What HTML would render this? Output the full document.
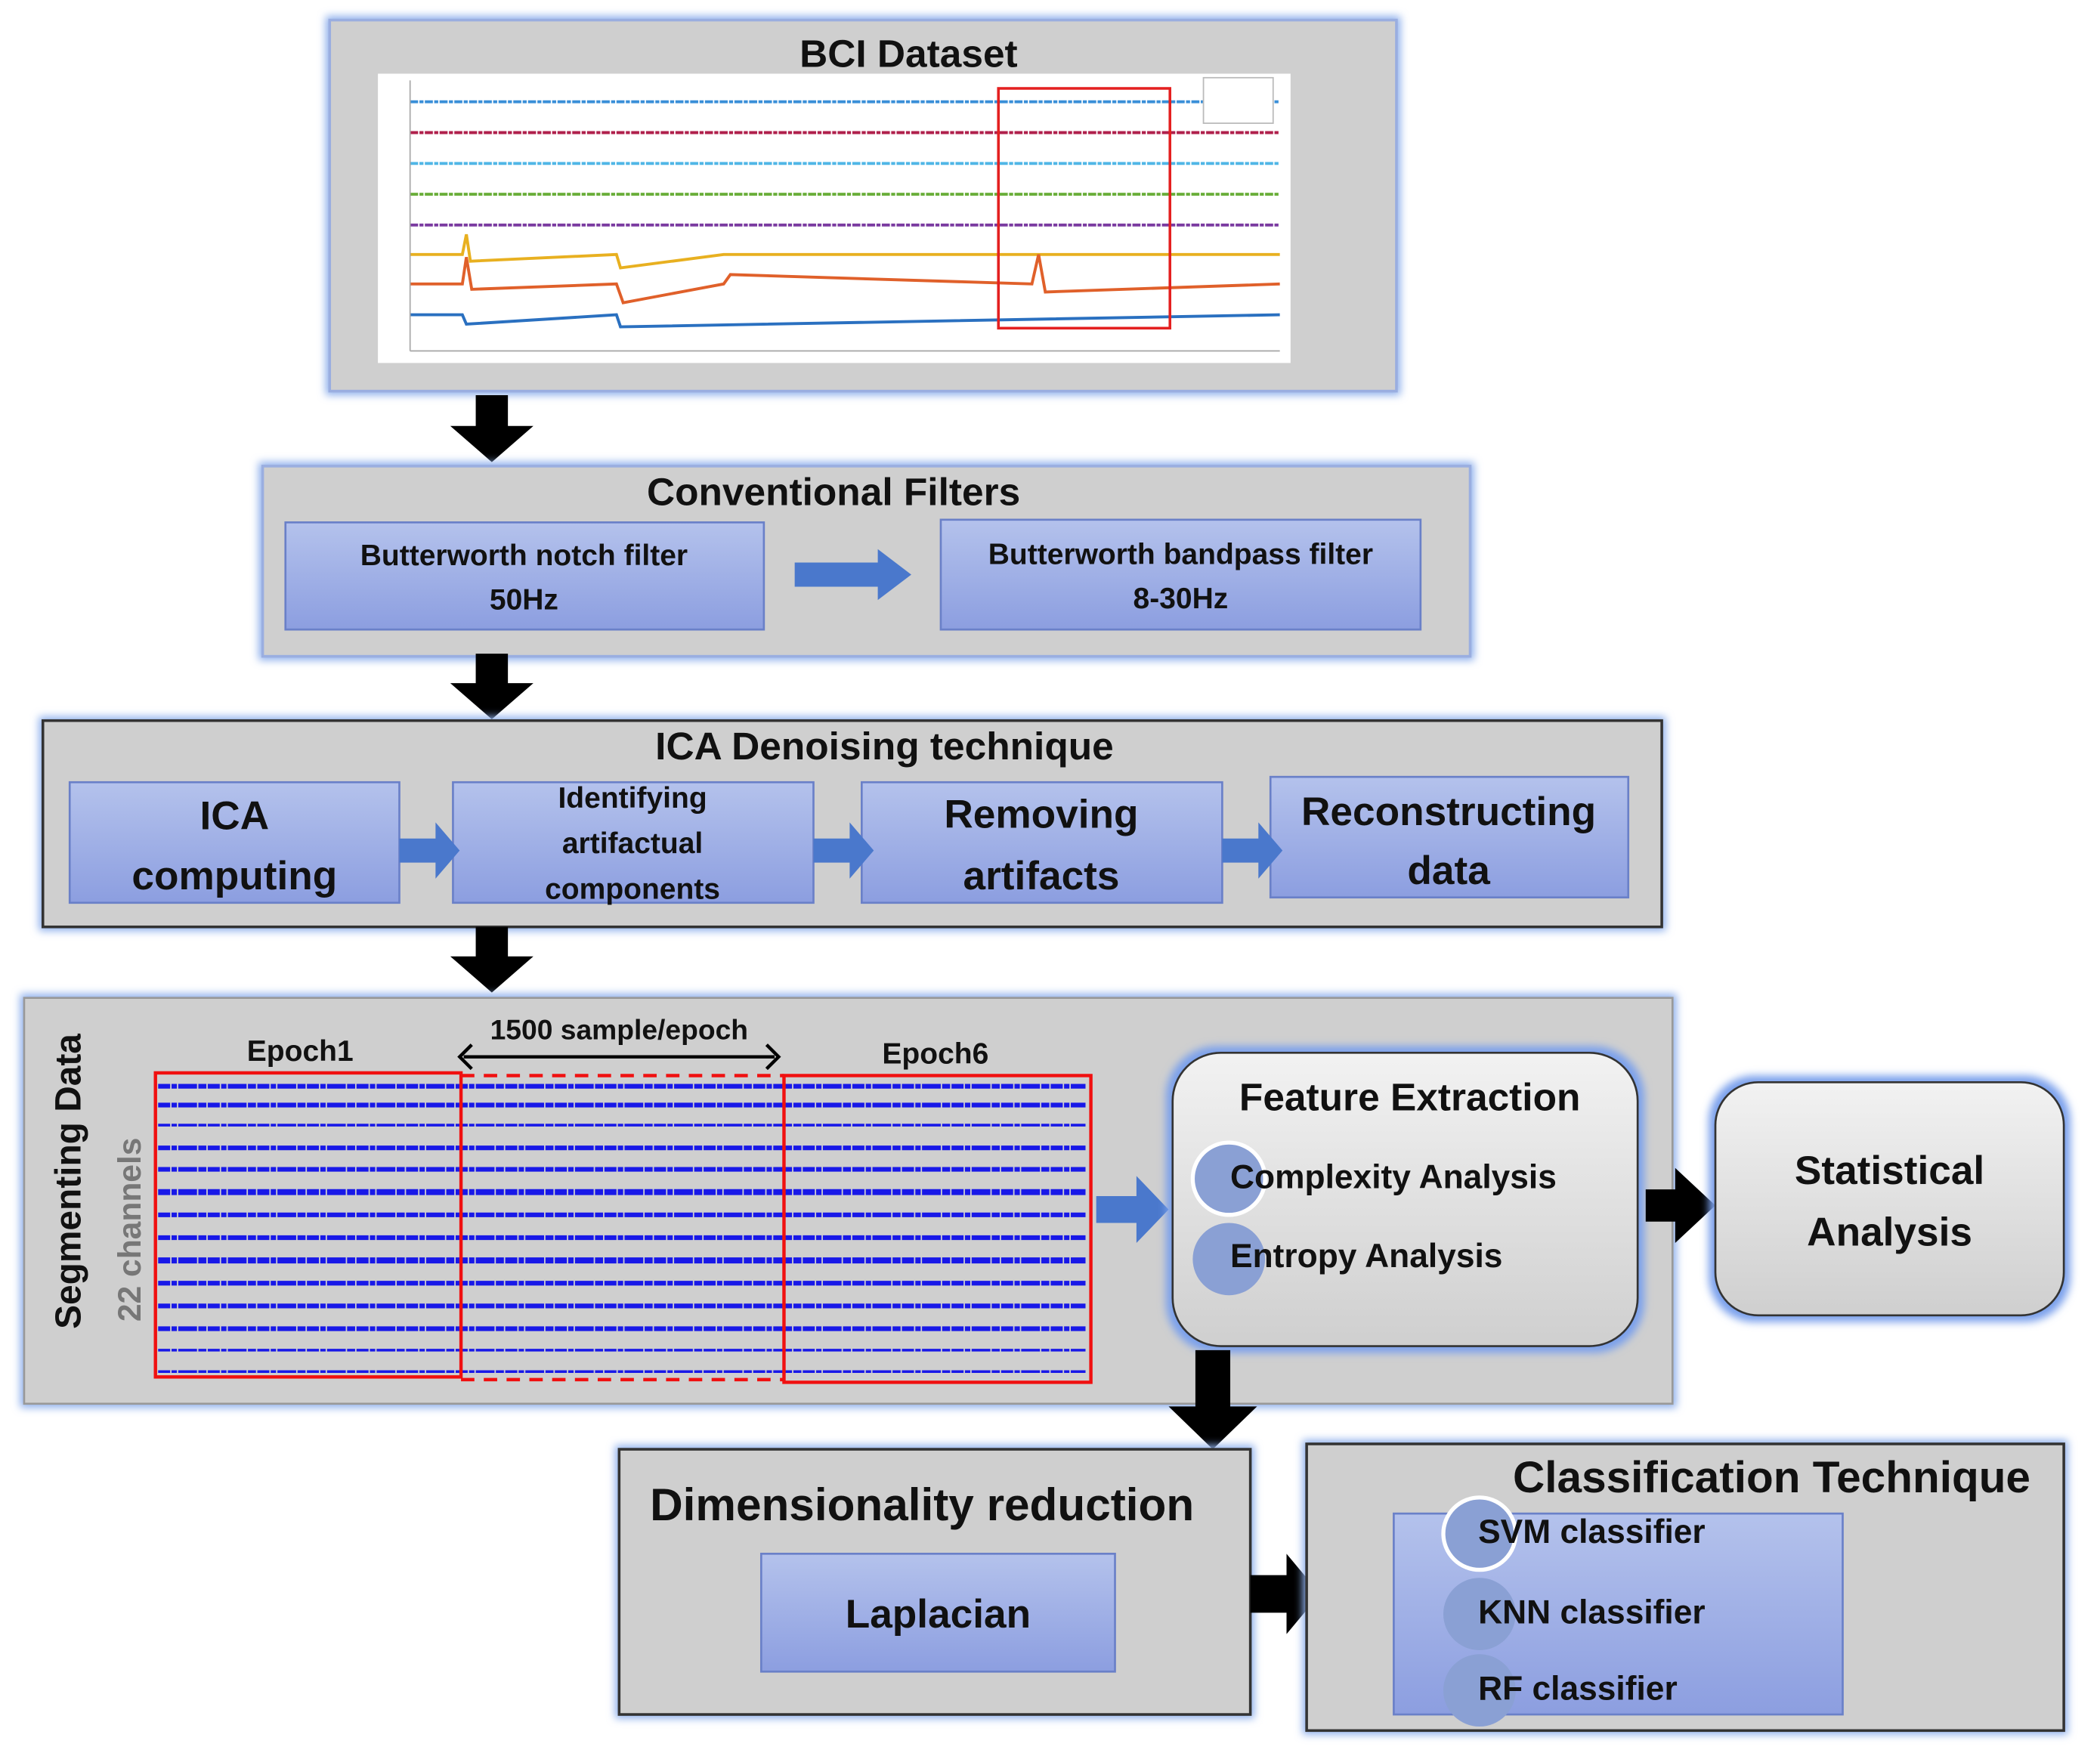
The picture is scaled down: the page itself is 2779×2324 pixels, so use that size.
<!DOCTYPE html>
<html><head><meta charset="utf-8"><style>
html,body{margin:0;padding:0;background:#fff;}
svg{display:block;}
text{font-family:"Liberation Sans","DejaVu Sans",sans-serif;font-weight:bold;fill:#111;}
</style></head><body>
<svg width="2779" height="2324" viewBox="0 0 1567 1311" preserveAspectRatio="none" xmlns="http://www.w3.org/2000/svg">
<defs>
<filter id="glow" x="-10%" y="-10%" width="120%" height="120%"><feGaussianBlur stdDeviation="3"/></filter>
<linearGradient id="sb" x1="0" y1="0" x2="0" y2="1"><stop offset="0" stop-color="#b4c2ec"/><stop offset="1" stop-color="#8c9ee0"/></linearGradient>
<linearGradient id="rb" x1="0" y1="0" x2="0" y2="1"><stop offset="0" stop-color="#f2f2f2"/><stop offset="1" stop-color="#cfcfcf"/></linearGradient>
</defs>
<rect width="1567" height="1311" fill="#fff"/>

<rect x="243" y="12" width="802" height="283" fill="#8fb0ec" filter="url(#glow)"/>
<rect x="246" y="15" width="796" height="277" fill="#cfcfcf" stroke="#9aaee0" stroke-width="2"/>
<text x="678" y="50" font-size="29" text-anchor="middle">BCI Dataset</text>
<rect x="282" y="55" width="681" height="216" fill="#fff"/>
<g stroke-width="2.2" fill="none">
<line x1="306" y1="76" x2="955" y2="76" stroke="#3a8fd8" stroke-dasharray="6 1 3 1"/>
<line x1="306" y1="99" x2="955" y2="99" stroke="#b0204c" stroke-dasharray="6 1 3 1"/>
<line x1="306" y1="122" x2="955" y2="122" stroke="#4fb6e6" stroke-dasharray="6 1 3 1"/>
<line x1="306" y1="145" x2="955" y2="145" stroke="#6aae3a" stroke-dasharray="6 1 3 1"/>
<line x1="306" y1="168" x2="955" y2="168" stroke="#7a3aa0" stroke-dasharray="6 1 3 1"/>
<polyline points="306,190 345,190 348,175 351,195 460,190 463,200 540,190 955,190" stroke="#e8b020"/>
<polyline points="306,212 345,212 348,192 352,216 460,212 465,226 540,212 545,205 770,212 775,190 780,218 955,212" stroke="#e0602a"/>
<polyline points="306,235 345,235 348,242 460,235 463,244 955,235" stroke="#2a70c0"/>
</g>
<line x1="306" y1="60" x2="306" y2="262" stroke="#aaa"/>
<line x1="306" y1="262" x2="955" y2="262" stroke="#aaa"/>
<rect x="898" y="58" width="52" height="34" fill="#fff" stroke="#bbb"/>
<rect x="745" y="66" width="128" height="179" fill="none" stroke="#e42020" stroke-width="2"/>

<polygon points="355,295 379,295 379,318 398,318 367,345 336,318 355,318" fill="#000"/>

<rect x="193" y="345" width="907" height="148" fill="#8fb0ec" filter="url(#glow)"/>
<rect x="196" y="348" width="901" height="142" fill="#cfcfcf" stroke="#9aaee0" stroke-width="2"/>
<text x="622" y="377" font-size="29" text-anchor="middle">Conventional Filters</text>
<rect x="213" y="390" width="357" height="80" fill="url(#sb)" stroke="#6a80c8" stroke-width="1.5"/>
<text x="391" y="422" font-size="22" text-anchor="middle">Butterworth notch filter</text>
<text x="391" y="455" font-size="22" text-anchor="middle">50Hz</text>
<rect x="702" y="388" width="358" height="82" fill="url(#sb)" stroke="#6a80c8" stroke-width="1.5"/>
<text x="881" y="421" font-size="22" text-anchor="middle">Butterworth bandpass filter</text>
<text x="881" y="454" font-size="22" text-anchor="middle">8-30Hz</text>
<polygon points="593,420 655,420 655,410 680,429 655,448 655,438 593,438" fill="#4a78cc"/>

<polygon points="355,488 379,488 379,510 398,510 367,537 336,510 355,510" fill="#000"/>

<rect x="29" y="535" width="1214" height="160" fill="#8fb0ec" filter="url(#glow)"/>
<rect x="32" y="538" width="1208" height="154" fill="#cfcfcf" stroke="#333" stroke-width="2"/>
<text x="660" y="567" font-size="29" text-anchor="middle">ICA Denoising technique</text>
<rect x="52" y="584" width="246" height="90" fill="url(#sb)" stroke="#6a80c8" stroke-width="1.5"/>
<text x="175" y="619" font-size="30" text-anchor="middle">ICA</text>
<text x="175" y="664" font-size="30" text-anchor="middle">computing</text>
<rect x="338" y="584" width="269" height="90" fill="url(#sb)" stroke="#6a80c8" stroke-width="1.5"/>
<text x="472" y="603" font-size="22" text-anchor="middle">Identifying</text>
<text x="472" y="637" font-size="22" text-anchor="middle">artifactual</text>
<text x="472" y="671" font-size="22" text-anchor="middle">components</text>
<rect x="643" y="584" width="269" height="90" fill="url(#sb)" stroke="#6a80c8" stroke-width="1.5"/>
<text x="777" y="618" font-size="30" text-anchor="middle">Removing</text>
<text x="777" y="664" font-size="30" text-anchor="middle">artifacts</text>
<rect x="948" y="580" width="267" height="90" fill="url(#sb)" stroke="#6a80c8" stroke-width="1.5"/>
<text x="1081" y="616" font-size="30" text-anchor="middle">Reconstructing</text>
<text x="1081" y="660" font-size="30" text-anchor="middle">data</text>
<polygon points="298,626 325,626 325,614 343,635 325,656 325,644 298,644" fill="#4a78cc"/>
<polygon points="607,626 634,626 634,614 652,635 634,656 634,644 607,644" fill="#4a78cc"/>
<polygon points="912,626 939,626 939,614 957,635 939,656 939,644 912,644" fill="#4a78cc"/>

<polygon points="355,692 379,692 379,714 398,714 367,741 336,714 355,714" fill="#000"/>

<rect x="15" y="742" width="1236" height="309" fill="#8fb0ec" filter="url(#glow)"/>
<rect x="18" y="745" width="1230" height="303" fill="#cfcfcf" stroke="#999" stroke-width="1.5"/>
<text transform="translate(60,882) rotate(-90)" font-size="27" text-anchor="middle">Segmenting Data</text>
<text transform="translate(105,918) rotate(-90)" font-size="24" text-anchor="middle" style="fill:#777">22 channels</text>
<text x="224" y="792" font-size="22" text-anchor="middle">Epoch1</text>
<text x="698" y="794" font-size="22" text-anchor="middle">Epoch6</text>
<text x="462" y="776" font-size="21" text-anchor="middle">1500 sample/epoch</text>
<line x1="346" y1="789" x2="578" y2="789" stroke="#000" stroke-width="2.5"/>
<polyline points="352,780 343,789 352,798" fill="none" stroke="#000" stroke-width="2.5"/>
<polyline points="572,780 581,789 572,798" fill="none" stroke="#000" stroke-width="2.5"/>
<g stroke="#1818e8" stroke-width="3.5" stroke-dasharray="9 1 4 1 14 1 6 1">
<line x1="118" y1="811" x2="810" y2="811"/>
<line x1="118" y1="825" x2="810" y2="825"/>
<line x1="118" y1="840" x2="810" y2="840" stroke-width="2"/>
<line x1="118" y1="857" x2="810" y2="857"/>
<line x1="118" y1="873" x2="810" y2="873"/>
<line x1="118" y1="890" x2="810" y2="890" stroke-width="4.5"/>
<line x1="118" y1="907" x2="810" y2="907"/>
<line x1="118" y1="924" x2="810" y2="924"/>
<line x1="118" y1="941" x2="810" y2="941" stroke-width="4.5"/>
<line x1="118" y1="958" x2="810" y2="958"/>
<line x1="118" y1="975" x2="810" y2="975"/>
<line x1="118" y1="992" x2="810" y2="992"/>
<line x1="118" y1="1008" x2="810" y2="1008" stroke-width="2"/>
<line x1="118" y1="1024" x2="810" y2="1024" stroke-width="2"/>
</g>
<rect x="116" y="801" width="228" height="227" fill="none" stroke="#f01010" stroke-width="2.5"/>
<rect x="585" y="803" width="229" height="229" fill="none" stroke="#f01010" stroke-width="2.5"/>
<line x1="344" y1="803" x2="585" y2="803" stroke="#f01010" stroke-width="2.5" stroke-dasharray="10 7"/>
<line x1="344" y1="1030" x2="585" y2="1030" stroke="#f01010" stroke-width="2.5" stroke-dasharray="10 7"/>
<polygon points="818,893 848,893 848,878 872,903 848,928 848,913 818,913" fill="#4a78cc"/>

<rect x="870" y="781" width="357" height="229" rx="38" fill="#7aa0ec" filter="url(#glow)"/>
<rect x="875" y="786" width="347" height="219" rx="36" fill="url(#rb)" stroke="#333" stroke-width="1.5"/>
<text x="1052" y="829" font-size="29" text-anchor="middle">Feature Extraction</text>
<circle cx="917" cy="880" r="27" fill="#8aa0d4" stroke="#fff" stroke-width="3"/>
<circle cx="917" cy="940" r="27" fill="#8aa0d4"/>
<text x="918" y="887" font-size="25">Complexity Analysis</text>
<text x="918" y="946" font-size="25">Entropy Analysis</text>

<polygon points="1228,888 1250,888 1250,872 1280,900 1250,928 1250,912 1228,912" fill="#000"/>

<rect x="1275" y="803" width="270" height="184" rx="34" fill="#7aa0ec" filter="url(#glow)"/>
<rect x="1280" y="808" width="260" height="174" rx="32" fill="url(#rb)" stroke="#333" stroke-width="1.5"/>
<text x="1410" y="884" font-size="30" text-anchor="middle">Statistical</text>
<text x="1410" y="930" font-size="30" text-anchor="middle">Analysis</text>

<polygon points="892,1008 918,1008 918,1050 938,1050 905,1082 872,1050 892,1050" fill="#000"/>

<rect x="459" y="1079" width="477" height="204" fill="#8fb0ec" filter="url(#glow)"/>
<rect x="462" y="1082" width="471" height="198" fill="#cfcfcf" stroke="#333" stroke-width="2"/>
<text x="688" y="1135" font-size="34" text-anchor="middle">Dimensionality reduction</text>
<rect x="568" y="1160" width="264" height="88" fill="url(#sb)" stroke="#6a80c8" stroke-width="1.5"/>
<text x="700" y="1215" font-size="30" text-anchor="middle">Laplacian</text>

<polygon points="933,1176 960,1176 960,1160 985,1190 960,1220 960,1204 933,1204" fill="#000"/>

<rect x="972" y="1075" width="571" height="220" fill="#8fb0ec" filter="url(#glow)"/>
<rect x="975" y="1078" width="565" height="214" fill="#cfcfcf" stroke="#333" stroke-width="2"/>
<text x="1322" y="1114" font-size="33" text-anchor="middle">Classification Technique</text>
<rect x="1040" y="1130" width="335" height="150" fill="url(#sb)" stroke="#6a80c8" stroke-width="1.5"/>
<circle cx="1104" cy="1145" r="27" fill="#8aa0d4" stroke="#fff" stroke-width="3"/>
<circle cx="1104" cy="1205" r="27" fill="#8aa0d4"/>
<circle cx="1104" cy="1262" r="27" fill="#8aa0d4"/>
<text x="1103" y="1152" font-size="25">SVM classifier</text>
<text x="1103" y="1212" font-size="25">KNN classifier</text>
<text x="1103" y="1269" font-size="25">RF classifier</text>
</svg>
</body></html>
